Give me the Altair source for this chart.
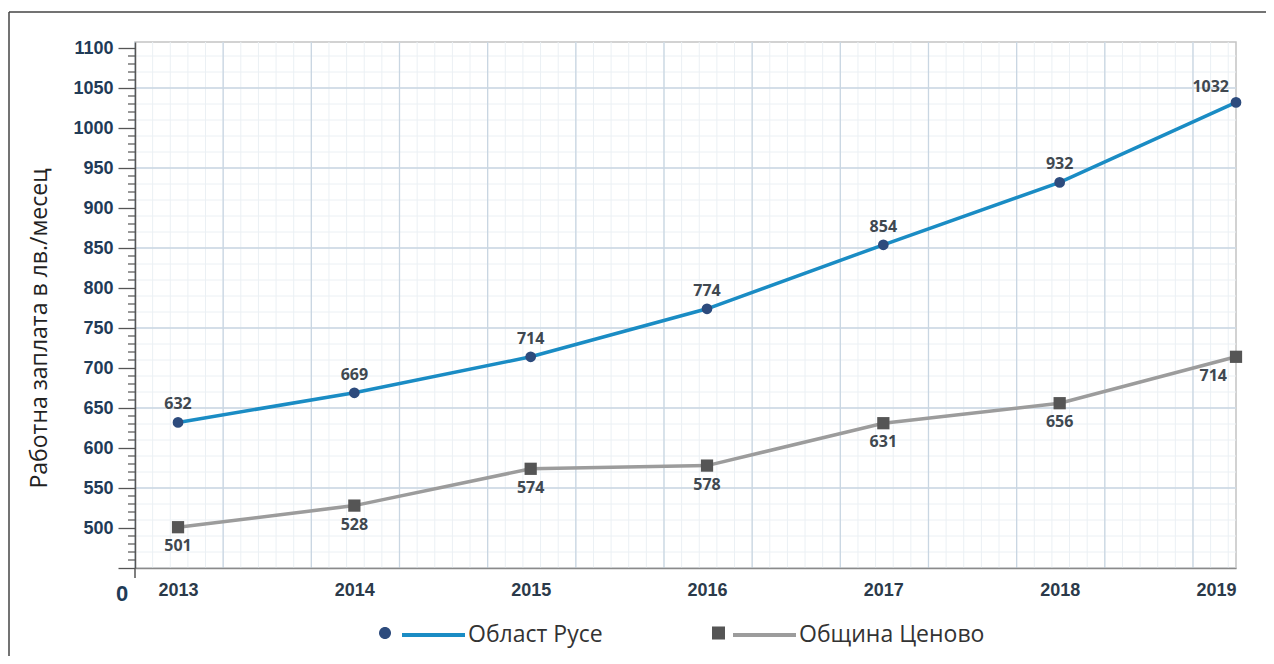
import altair as alt
import pandas as pd

# ---------------- data ----------------
years = [2013, 2014, 2015, 2016, 2017, 2018, 2019]
ruse = [632, 669, 714, 774, 854, 932, 1032]
tsenovo = [501, 528, 574, 578, 631, 656, 714]
series_names = ["Област Русе", "Община Ценово"]
y_title = "Работна заплата в лв./месец"
y_major_ticks = list(range(450, 1101, 50))
y_minor_ticks = [v for v in range(450, 1101, 10) if v % 50 != 0]
x_tick_values = years
zero_label = ["0"]

# ---------------- layout ----------------
W, H = 1101, 526
X0 = 2012.756
x_dom = [X0, 2019]
y_dom = [450, 1107.5]

grid_x_minor = [X0 + 0.1 * k for k in range(63)]
grid_x_major = [X0 + 0.5 * k for k in range(13)]
grid_y_minor = list(range(450, 1101, 20))
grid_y_major = list(range(550, 1101, 100))

BLUE = "#1a8cc4"
NAVY = "#2d4b7d"
GRAY_LINE = "#9c9c9c"
GRAY_MARK = "#555555"
LABEL_COL = "#404850"
AXIS_COL = "#555555"

df = pd.DataFrame({
    "year": years * 2,
    "value": ruse + tsenovo,
    "series": [series_names[0]] * len(years) + [series_names[1]] * len(years),
})

xs = alt.Scale(domain=x_dom, nice=False, zero=False)
ys = alt.Scale(domain=y_dom, nice=False, zero=False)

x_axis = alt.Axis(
    values=x_tick_values, format="d", ticks=False, grid=False,
    labelFont="Liberation Sans", labelFontWeight="bold", labelFontSize=18,
    labelColor="#2b3a4a", labelPadding=13, labelFlush=5,
    domainColor="#8a8a8a", domainWidth=1.5, title=None, zindex=1,
)
y_axis = alt.Axis(
    values=y_major_ticks, format="d", grid=False, labelOverlap=False,
    labelExpr="datum.value >= 500 ? datum.label : ''",
    tickSize=17, tickColor=AXIS_COL, tickWidth=1.3,
    labelFont="Liberation Sans", labelFontWeight="bold", labelFontSize=18,
    labelColor="#1f3b57", labelPadding=5,
    domainColor=AXIS_COL, domainWidth=1.5,
    title=y_title, titleFont="Open Sans", titleFontSize=23, titleFontWeight="normal",
    titleColor="#222222", titleX=-96, titleY=286, titleAngle=270,
    titleBaseline="middle", titleAlign="center", zindex=1,
)


def X(field):
    return alt.X(field, scale=xs, axis=x_axis)


def Y(field):
    return alt.Y(field, scale=ys, axis=y_axis)


def vgrid(vals, color, width):
    return alt.Chart(pd.DataFrame({"gx": vals})).mark_rule(
        color=color, strokeWidth=width).encode(x=X("gx:Q"))


def hgrid(vals, color, width):
    return alt.Chart(pd.DataFrame({"gy": vals})).mark_rule(
        color=color, strokeWidth=width).encode(y=Y("gy:Q"))


grid = [
    vgrid(grid_x_minor, "#ebf0f4", 1),
    hgrid(grid_y_minor, "#ebf0f4", 1),
    vgrid(grid_x_major, "#c9d6e2", 1.3),
    hgrid(grid_y_major, "#c9d6e2", 1.3),
]

minor_ticks = alt.Chart(pd.DataFrame({"mt": y_minor_ticks})).mark_rule(
    color=AXIS_COL, strokeWidth=1.2
).encode(y=Y("mt:Q"), x=alt.value(-7), x2=alt.value(0))

base = alt.Chart(df)
is_r = alt.datum.series == series_names[0]
is_t = alt.datum.series == series_names[1]
last = alt.datum.year == years[-1]
notlast = alt.datum.year != years[-1]

pos = dict(x=X("year:Q"), y=Y("value:Q"))

line_r = base.transform_filter(is_r).mark_line(color=BLUE, strokeWidth=3.5).encode(**pos)
line_t = base.transform_filter(is_t).mark_line(color=GRAY_LINE, strokeWidth=3.5).encode(**pos)
pts_r = base.transform_filter(is_r).mark_point(
    filled=True, shape="circle", size=115, color=NAVY, opacity=1).encode(**pos)
pts_t = base.transform_filter(is_t).mark_point(
    filled=True, shape="square", size=150, color=GRAY_MARK, opacity=1).encode(**pos)

txt_kw = dict(font="Open Sans", fontWeight="bold", fontSize=16, color=LABEL_COL)
txt_enc = dict(text=alt.Text("value:Q", format="d"), **pos)

lab_r = base.transform_filter(is_r).transform_filter(notlast).mark_text(dy=-18, **txt_kw).encode(**txt_enc)
lab_r_last = base.transform_filter(is_r).transform_filter(last).mark_text(
    dy=-15, dx=-7, align="right", **txt_kw).encode(**txt_enc)
lab_t = base.transform_filter(is_t).transform_filter(notlast).mark_text(dy=19, **txt_kw).encode(**txt_enc)
lab_t_last = base.transform_filter(is_t).transform_filter(last).mark_text(
    dy=19, dx=-9, align="right", **txt_kw).encode(**txt_enc)

# axis decorations: extended y axis line and the "0" at the origin
deco_df = pd.DataFrame({"t": zero_label})
y_ext = alt.Chart(deco_df).mark_rule(color=AXIS_COL, strokeWidth=1.5).encode(
    x=alt.value(0), y=alt.value(H), y2=alt.value(H + 10))
zero_txt = alt.Chart(deco_df).mark_text(
    font="Liberation Sans", fontWeight="bold", fontSize=22, color="#1f3b57"
).encode(x=alt.value(-13), y=alt.value(552), text="t:N")

# outer frame
frame_top = alt.Chart(deco_df).mark_rule(color="#444444", strokeWidth=1.5).encode(
    x=alt.value(-126), x2=alt.value(W + 40), y=alt.value(-30))
frame_left = alt.Chart(deco_df).mark_rule(color="#444444", strokeWidth=1.5).encode(
    x=alt.value(-126), y=alt.value(-30), y2=alt.value(H + 100))

# legend (markers + lines, two overlaid legends)
SYM = 7056  # 84 px wide symbol box
circle_path = "M -1 0 A 0.143 0.143 0 1 1 -0.714 0 A 0.143 0.143 0 1 1 -1 0 Z"
square_path = "M -1 -0.155 L -0.69 -0.155 L -0.69 0.155 L -1 0.155 Z"
line_path = "M -0.5 0 L 1 0"
marker_domain = [n + " " for n in series_names]

leg_common = dict(
    orient="none", legendX=244, legendY=549, direction="horizontal",
    labelOffset=1, symbolSize=SYM, title=None, padding=0,
    labelFont="Open Sans", labelFontSize=23, labelColor="#333333",
    labelLimit=400, symbolOpacity=1,
)
legA = alt.Legend(labelExpr="''", columnPadding=248, symbolStrokeWidth=0, **leg_common)
legB = alt.Legend(symbolType=line_path, columnPadding=107, symbolStrokeWidth=4,
                  symbolFillColor="transparent", **leg_common)

legend_layer = base.transform_filter("false").mark_point(filled=True, opacity=1).encode(
    shape=alt.Shape("series_m:N", scale=alt.Scale(domain=marker_domain, range=[circle_path, square_path]), legend=legA),
    fill=alt.Fill("series_m:N", scale=alt.Scale(domain=marker_domain, range=[NAVY, GRAY_MARK]), legend=legA),
    stroke=alt.Stroke("series:N", scale=alt.Scale(domain=series_names, range=[BLUE, GRAY_LINE]), legend=legB),
    **pos,
)

chart = alt.layer(
    *grid, minor_ticks, line_t, line_r, pts_t, pts_r, lab_r, lab_r_last, lab_t, lab_t_last,
    y_ext, zero_txt, frame_top, frame_left, legend_layer,
).properties(
    width=W, height=H,
    autosize=alt.AutoSizeParams(type="none"),
    padding={"left": 127, "top": 34, "right": 30, "bottom": 88},
    background="white",
).configure_view(stroke="#c4c4c4", strokeWidth=1.5)

chart.save("out.html", embed_options={"renderer": "svg", "actions": False})
